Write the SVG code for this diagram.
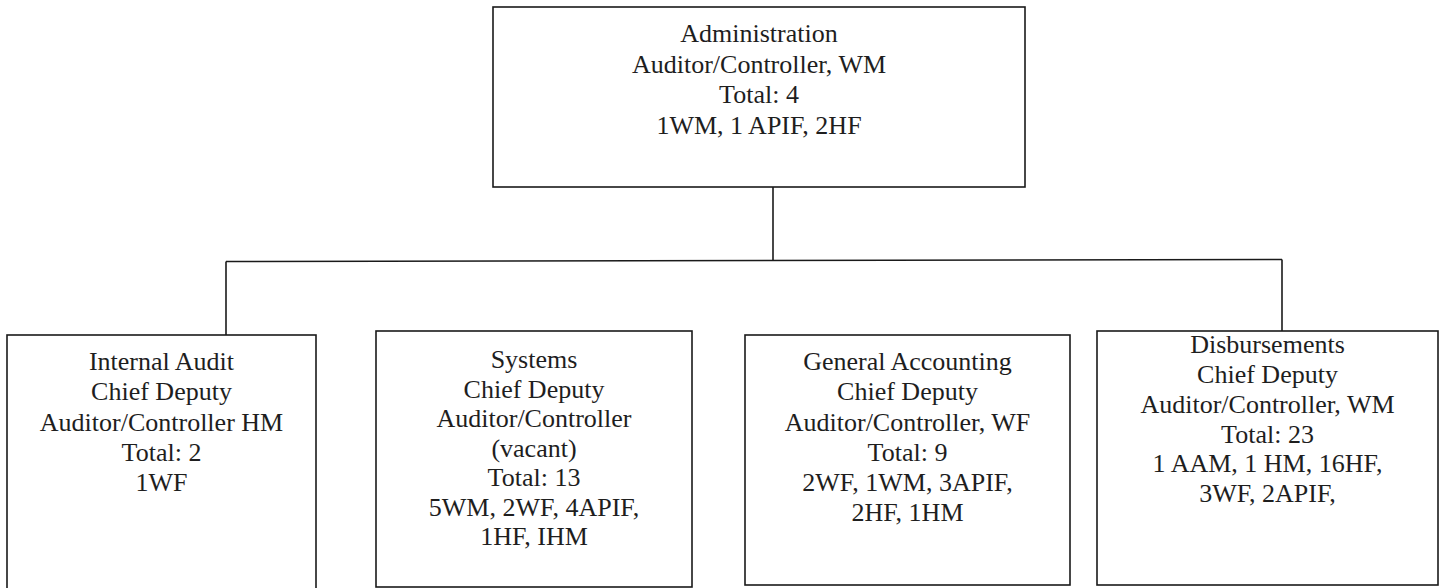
<svg xmlns="http://www.w3.org/2000/svg" width="1444" height="588" viewBox="0 0 1444 588">
<style>
.box{fill:#fff;stroke:#1a1a1a;stroke-width:1.6}
.ln{fill:none;stroke:#1a1a1a;stroke-width:1.6}
text{font-family:"Liberation Serif","Times New Roman",serif;font-size:26px;fill:#1e1e1e;text-anchor:middle}
</style>
<rect width="1444" height="588" fill="#fff"/>
<g id="connectors">
<path class="ln" d="M773 187 V260"/>
<path class="ln" d="M226 261.5 L1282 259.5"/>
<path class="ln" d="M226 261.5 V335"/>
<path class="ln" d="M1282 259.5 V331"/>
</g>
<g id="administration">
<rect class="box" x="493" y="7" width="532" height="180"/>
<text x="759" y="42">Administration</text>
<text x="759" y="72.5">Auditor/Controller, WM</text>
<text x="759" y="103">Total: 4</text>
<text x="759" y="134">1WM, 1 APIF, 2HF</text>
</g>
<g id="internal-audit">
<rect class="box" x="7" y="335" width="309" height="256"/>
<text x="161.5" y="370">Internal Audit</text>
<text x="161.5" y="400">Chief Deputy</text>
<text x="161.5" y="430.5">Auditor/Controller HM</text>
<text x="161.5" y="461">Total: 2</text>
<text x="161.5" y="491">1WF</text>
</g>
<g id="systems">
<rect class="box" x="376" y="331" width="316" height="256"/>
<text x="534" y="368">Systems</text>
<text x="534" y="397.5">Chief Deputy</text>
<text x="534" y="427">Auditor/Controller</text>
<text x="534" y="456.5">(vacant)</text>
<text x="534" y="486">Total: 13</text>
<text x="534" y="515.5">5WM, 2WF, 4APIF,</text>
<text x="534" y="545">1HF, IHM</text>
</g>
<g id="general-accounting">
<rect class="box" x="745" y="335" width="325" height="250"/>
<text x="907.5" y="370">General Accounting</text>
<text x="907.5" y="400">Chief Deputy</text>
<text x="907.5" y="430.5">Auditor/Controller, WF</text>
<text x="907.5" y="461">Total: 9</text>
<text x="907.5" y="491">2WF, 1WM, 3APIF,</text>
<text x="907.5" y="521">2HF, 1HM</text>
</g>
<g id="disbursements">
<rect class="box" x="1097" y="331" width="341" height="254"/>
<text x="1267.5" y="353">Disbursements</text>
<text x="1267.5" y="383">Chief Deputy</text>
<text x="1267.5" y="413">Auditor/Controller, WM</text>
<text x="1267.5" y="442.5">Total: 23</text>
<text x="1267.5" y="472">1 AAM, 1 HM, 16HF,</text>
<text x="1267.5" y="502">3WF, 2APIF,</text>
</g>
</svg>
